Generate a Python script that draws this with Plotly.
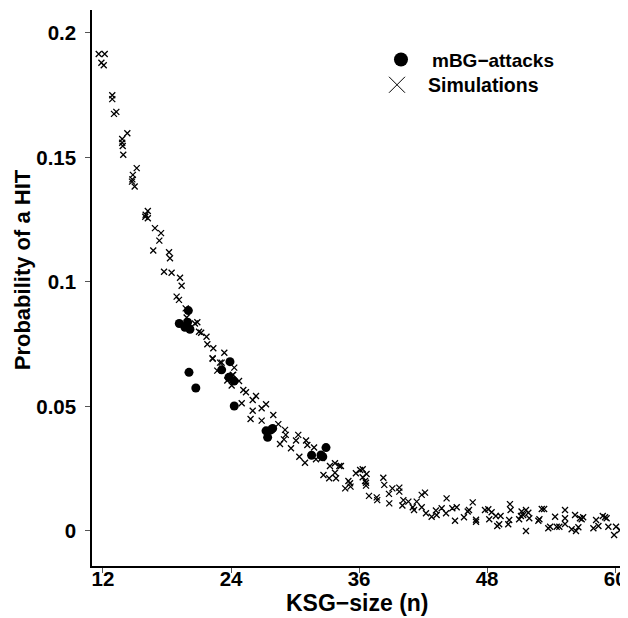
import plotly.graph_objects as go

# Simulations (KSG-size n, probability of a HIT)
sim_n = [11.6, 12.16, 11.85, 12.07, 12.87, 12.87, 13.03, 13.25, 14.28, 13.8, 13.8, 13.85, 13.9,
         15.16, 14.8, 14.75, 14.72, 14.97, 16.2, 15.96, 16.2, 16.0, 16.87, 17.44, 17.28, 16.71,
         18.19, 18.28, 17.72, 18.43, 19.22, 19.37, 18.9, 19.12, 19.75, 19.84, 20.84, 20.62, 21.0,
         21.2, 21.7, 21.78, 22.34, 23.37, 22.27, 22.97, 22.28, 22.71, 24.3, 24.2, 23.12, 23.65,
         24.15, 24.75, 24.06, 25.15, 25.4, 26.34, 26.03, 25.0, 27.28, 26.87, 26.03, 27.96, 25.83,
         26.87, 28.43, 29.06, 29.13, 28.96, 28.59, 29.62, 30.3, 30.09, 31.03, 31.15, 31.78, 30.4,
         30.93, 31.96, 32.5, 33.27, 33.74, 34.15, 34.3, 32.66, 33.2, 33.74, 33.84, 35.7, 36.1,
         36.34, 36.7, 36.34, 36.56, 36.65, 36.65, 35.0, 35.15, 34.7, 35.2, 36.93, 37.65, 37.7,
         38.27, 38.36, 39.12, 38.8, 38.83, 39.77, 39.77, 40.15, 40.06, 40.62, 41.03, 41.4, 41.15,
         41.87, 42.18, 41.87, 42.27, 42.8, 43.2, 43.27, 43.74, 44.15, 44.2, 44.74, 45.15, 44.99,
         45.83, 46.18, 46.3, 46.65, 46.96, 46.96, 47.8, 48.11, 48.2, 48.42, 48.82, 48.95, 49.26,
         49.13, 50.14, 50.2, 50.07, 49.98, 51.0, 51.23, 51.38, 51.64, 51.86, 51.95, 51.64, 51.17,
         52.8, 52.9, 53.12, 53.34, 53.73, 53.9, 54.37, 54.52, 54.77, 55.3, 55.3, 55.3, 55.92,
         56.24, 56.33, 56.55, 56.86, 57.0, 56.7, 57.96, 58.21, 58.43, 58.84, 59.05, 59.2, 59.36,
         59.9, 60.08, 60.45]
sim_p = [0.1915, 0.1915, 0.188, 0.187, 0.175, 0.1734, 0.1675, 0.1683, 0.1597, 0.1574, 0.1559, 0.1546, 0.1511,
         0.1457, 0.143, 0.1412, 0.1403, 0.1383, 0.1285, 0.1262, 0.1256, 0.127, 0.1216, 0.1196, 0.1166, 0.1126,
         0.1119, 0.1095, 0.1041, 0.1037, 0.1017, 0.0985, 0.0941, 0.0928, 0.0894, 0.0857, 0.0838, 0.0833, 0.08,
         0.0796, 0.078, 0.075, 0.0734, 0.0716, 0.0694, 0.0676, 0.0691, 0.0644, 0.0656, 0.0627, 0.0676, 0.0604,
         0.0627, 0.0602, 0.0584, 0.0566, 0.0557, 0.0542, 0.0526, 0.0513, 0.0509, 0.0493, 0.0483, 0.0466, 0.045,
         0.0443, 0.0429, 0.0406, 0.0386, 0.0368, 0.0349, 0.0332, 0.0386, 0.0363, 0.0363, 0.0345, 0.0335, 0.0298,
         0.0274, 0.0288, 0.0293, 0.0261, 0.0272, 0.0261, 0.0261, 0.0225, 0.0212, 0.0234, 0.0212, 0.0232, 0.0245,
         0.0248, 0.0229, 0.0216, 0.0201, 0.0182, 0.0194, 0.0201, 0.0192, 0.0171, 0.0178, 0.0141, 0.0135, 0.0124,
         0.0214, 0.0185, 0.0171, 0.0149, 0.0111, 0.0174, 0.0158, 0.0124, 0.0102, 0.0118, 0.0095, 0.0118, 0.0084,
         0.0145, 0.0154, 0.0095, 0.0071, 0.0057, 0.0082, 0.0064, 0.0091, 0.0071, 0.0131, 0.0091, 0.0095, 0.0041,
         0.0055, 0.0078, 0.0084, 0.0115, 0.0037, 0.0045, 0.0084, 0.0087, 0.0047, 0.0075, 0.006, 0.002, 0.006,
         0.0027, 0.0108, 0.0084, 0.0044, 0.0027, 0.0047, 0.0078, 0.0064, 0.0084, 0.0073, 0.0051, 0.0, 0.006,
         0.0041, 0.0047, 0.0088, 0.0088, 0.0011, 0.0017, 0.0057, 0.0017, 0.0017, 0.0084, 0.0051, 0.0028, 0.0007,
         0.0064, 0.0, 0.0015, 0.0047, 0.0055, 0.0051, 0.0011, 0.0044, 0.002, 0.006, 0.0055, 0.0051, 0.0017,
         -0.0016, 0.0017, 0.0004]

# mBG-attacks
mbg_n = [20.0, 19.15, 19.93, 19.68, 20.15, 20.06, 20.7, 23.9, 23.12, 23.8, 24.28, 24.3,
         27.28, 27.75, 27.9, 27.43, 31.55, 32.43, 32.9, 32.6]
mbg_p = [0.0885, 0.0833, 0.0838, 0.0818, 0.081, 0.0637, 0.0574, 0.068, 0.0647, 0.0617, 0.0602, 0.0502,
         0.0402, 0.0406, 0.0412, 0.0376, 0.0304, 0.0305, 0.0335, 0.0298]

x_ticks = [12, 24, 36, 48, 60]
y_ticks = [0, 0.05, 0.1, 0.15, 0.2]
y_ticktext = ["0", "0.05", "0.1", "0.15", "0.2"]

FONT = "Liberation Sans, Arial, sans-serif"

fig = go.Figure()
fig.add_trace(go.Scatter(x=sim_n, y=sim_p, mode="markers", showlegend=False,
                         marker=dict(symbol="x-thin-open", size=6, color="black",
                                     line=dict(width=1.3, color="black"))))
fig.add_trace(go.Scatter(x=mbg_n, y=mbg_p, mode="markers", showlegend=False,
                         marker=dict(symbol="circle", size=9, color="black", line=dict(width=0))))
# legend entries
fig.add_trace(go.Scatter(x=[None], y=[None], mode="markers", name="mBG\u2212attacks",
                         legend="legend",
                         marker=dict(symbol="circle", size=14, color="black", line=dict(width=0))))
fig.add_trace(go.Scatter(x=[None], y=[None], mode="markers", name="Simulations",
                         legend="legend2",
                         marker=dict(symbol="x-thin-open", size=16, color="black",
                                     line=dict(width=1, color="black"))))

legend_font = dict(size=19, family=FONT, weight="bold")
fig.update_layout(
    width=620, height=610,
    margin=dict(l=84, r=6, t=2, b=52),
    paper_bgcolor="white", plot_bgcolor="white",
    font=dict(family=FONT, color="black"),
    showlegend=True,
    legend=dict(x=0.5245, y=0.945, xanchor="left", yanchor="top", bgcolor="rgba(0,0,0,0)",
                font=legend_font, itemwidth=52, itemsizing="trace"),
    legend2=dict(x=0.517, y=0.900, xanchor="left", yanchor="top", bgcolor="rgba(0,0,0,0)",
                 font=dict(size=19.5, family=FONT, weight="bold"), itemwidth=52,
                 itemsizing="trace"),
    xaxis=dict(range=[10.97, 60.64], tickvals=x_ticks, ticks="outside", ticklen=5,
               tickcolor="#555", tickwidth=1, showline=True, linecolor="black", linewidth=1.5,
               showgrid=False, zeroline=False, ticklabelstandoff=-11,
               tickfont=dict(size=20.5, family=FONT, weight="bold")),
    yaxis=dict(range=[-0.01406, 0.2092], tickvals=y_ticks, ticktext=y_ticktext, ticks="outside",
               ticklen=5, tickcolor="#555", tickwidth=1, showline=True, linecolor="black",
               linewidth=1.5, showgrid=False, zeroline=False, ticklabelstandoff=5,
               tickfont=dict(size=20.5, family=FONT, weight="bold")),
    annotations=[
        dict(text="KSG\u2212size (n)", xref="paper", yref="paper", x=0.5, y=-0.0665,
             xanchor="center", yanchor="middle", showarrow=False,
             font=dict(size=23, family=FONT, weight="bold")),
        dict(text="Probability of a HIT", xref="paper", yref="paper", x=-0.132, y=0.532,
             xanchor="center", yanchor="middle", textangle=-90, showarrow=False,
             font=dict(size=22, family=FONT, weight="bold")),
    ],
)

fig.write_html("out.html")
